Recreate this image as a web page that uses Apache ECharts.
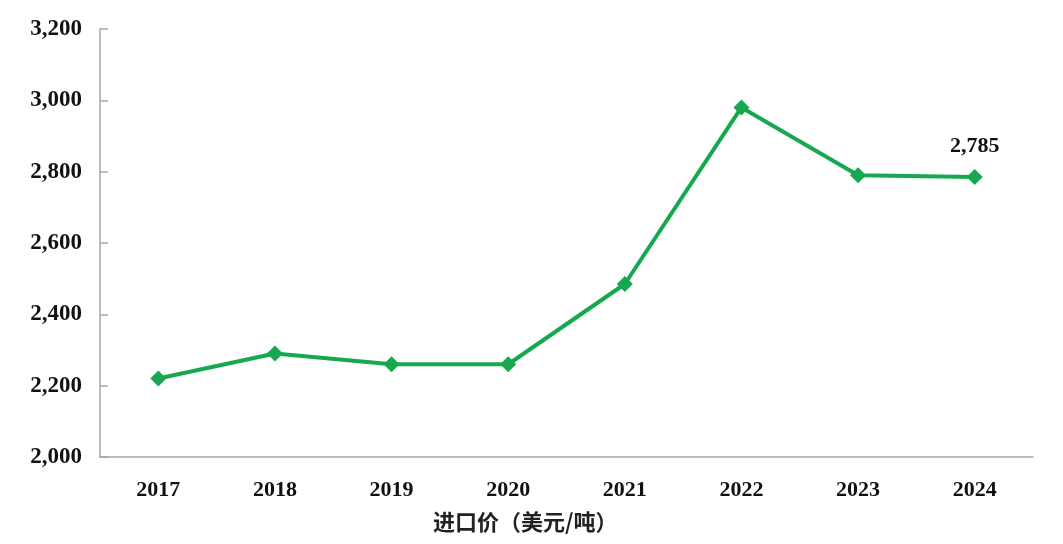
<!DOCTYPE html>
<html>
<head>
<meta charset="utf-8">
<script src="https://cdn.jsdelivr.net/npm/echarts@6/dist/echarts.min.js"></script>
<style>html,body{margin:0;padding:0;background:#fff}#c{width:1063px;height:544px}</style>
</head>
<body>
<div id="c"></div>
<script>
var years = ['2017','2018','2019','2020','2021','2022','2023','2024'];
var prices = [2220, 2290, 2260, 2260, 2485, 2980, 2790, 2785];
var seriesName = '进口价（美元/吨）';

var chart = echarts.init(document.getElementById('c'));
var font = '"Liberation Serif","Times New Roman",serif';
chart.setOption({
  animation: false,
  grid: {left: 100, right: 30, top: 29, bottom: 87},
  title: {
    text: seriesName, left: 428, top: 506,
    textStyle: {fontFamily: '"Noto Sans CJK SC", serif', fontSize: 22, fontWeight: 'bold', color: '#222'}
  },
  xAxis: {
    type: 'category', data: years, boundaryGap: true,
    axisLine: {lineStyle: {color: '#a6a6a6', width: 1.5}},
    axisTick: {inside: true, length: 9, lineStyle: {color: '#a6a6a6', width: 1.5}},
    axisLabel: {margin: 22, fontFamily: font, fontSize: 22, fontWeight: 'bold', color: '#111'}
  },
  yAxis: {
    type: 'value', min: 2000, max: 3200, interval: 200,
    splitLine: {show: false},
    axisLine: {show: true, lineStyle: {color: '#a6a6a6', width: 1.5}},
    axisTick: {show: true, inside: true, length: 8, lineStyle: {color: '#a6a6a6', width: 1.5}},
    axisLabel: {margin: 18, fontFamily: font, fontSize: 23, fontWeight: 'bold', color: '#111',
      formatter: function (v) { return v.toLocaleString('en-US'); }}
  },
  series: [{
    name: seriesName, type: 'line', data: prices.map(function (v, i) {
      if (i === prices.length - 1) {
        return {value: v, label: {show: true, position: 'top', distance: 12,
          formatter: function (p) { return p.value.toLocaleString('en-US'); },
          fontFamily: font, fontSize: 22, fontWeight: 'bold', color: '#111'}};
      }
      return v;
    }),
    symbol: 'diamond', symbolSize: 16,
    lineStyle: {color: '#16a84f', width: 4},
    itemStyle: {color: '#16a84f'}
  }]
});
</script>
</body>
</html>
